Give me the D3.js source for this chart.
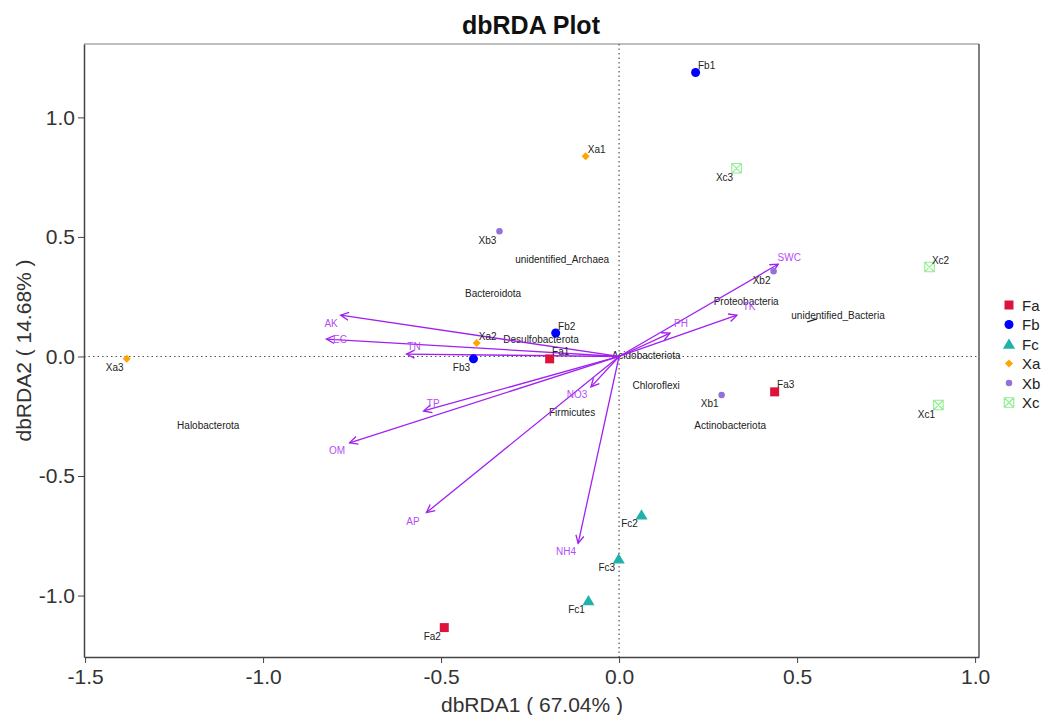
<!DOCTYPE html>
<html lang="en">
<head>
    <meta charset="UTF-8">
    <title>dbRDA Plot</title>
    <script src="https://d3js.org/d3.v7.min.js"></script>
    <style>
        body { margin: 0; background: #fff; }
        text { font-family: "Liberation Sans", Arial, sans-serif; }
        .axis text { font-size: 21px; fill: #333; }
        .axis path, .axis line { stroke: #444; }
    </style>
</head>
<body>
    <svg id="chart"></svg>

    <script>
        // samples
        const groups = ["Fa", "Fb", "Fc", "Xa", "Xb", "Xc"];
        const sampleNames = ["Fa1", "Fa2", "Fa3", "Fb1", "Fb2", "Fb3", "Fc1", "Fc2", "Fc3",
                             "Xa1", "Xa2", "Xa3", "Xb1", "Xb2", "Xb3", "Xc1", "Xc2", "Xc3"];
        const sampleX = [-0.195, -0.491, 0.437, 0.215, -0.178, -0.409, -0.086, 0.063, -0.001,
                         -0.094, -0.400, -1.383, 0.288, 0.434, -0.336, 0.897, 0.872, 0.330];
        const sampleY = [-0.010, -1.134, -0.148, 1.188, 0.098, -0.010, -1.021, -0.662, -0.846,
                         0.837, 0.056, -0.010, -0.161, 0.357, 0.524, -0.203, 0.374, 0.787];
        // which side the repelled label sits on
        const sampleSide = ["ur", "bl", "ur", "ur", "ur", "bl", "bl", "bl", "bl",
                            "ur", "ur", "bl", "bl", "bl", "bl", "bl", "ur", "bl"];

        // environmental factors (arrows)
        const envNames = ["AK", "EC", "TN", "TP", "OM", "AP", "NH4", "NO3", "PH", "TK", "SWC"];
        const envX = [-0.782, -0.822, -0.597, -0.549, -0.757, -0.541, -0.115, -0.079, 0.143, 0.331, 0.447];
        const envY = [0.173, 0.073, 0.010, -0.228, -0.361, -0.653, -0.782, -0.127, 0.098, 0.173, 0.386];
        const envLabelX = [-0.809, -0.784, -0.576, -0.522, -0.792, -0.579, -0.149, -0.118, 0.174, 0.365, 0.478];
        const envLabelY = [0.140, 0.073, 0.040, -0.198, -0.395, -0.689, -0.816, -0.161, 0.136, 0.207, 0.415];

        // species
        const speciesNames = ["unidentified_Archaea", "Bacteroidota", "Desulfobacterota", "Acidobacteriota",
                              "Chloroflexi", "Firmicutes", "Halobacterota", "Proteobacteria",
                              "unidentified_Bacteria", "Actinobacteriota"];
        const speciesX = [-0.160, -0.354, -0.219, 0.076, 0.104, -0.132, -1.154, 0.357, 0.615, 0.312];
        const speciesY = [0.407, 0.263, 0.073, 0.002, -0.123, -0.236, -0.290, 0.228, 0.173, -0.290];
        // repel segment for unidentified_Bacteria
        const linkFrom = [0.528, 0.144];
        const linkTo = [0.556, 0.157];

        const xTicks = [-1.5, -1.0, -0.5, 0.0, 0.5, 1.0];
        const yTicks = [-1.0, -0.5, 0.0, 0.5, 1.0];
        const xLim = [-1.503, 1.011];
        const yLim = [-1.257, 1.307];

        const width = 1042, height = 715;
        const margin = { top: 44, right: 63, bottom: 58, left: 84 };

        const colors = {
            Fa: "#dc143c", Fb: "#0000ff", Fc: "#20b2aa",
            Xa: "#ffa500", Xb: "#9370db", Xc: "#90ee90"
        };
        const envColor = "#a020f0";

        // plain hyphen for negatives, like R
        const fmt = d => d3.format(".1f")(d).replace("\u2212", "-");

        const x = d3.scaleLinear().domain(xLim).range([margin.left, width - margin.right]);
        const y = d3.scaleLinear().domain(yLim).range([height - margin.bottom, margin.top]);

        const svg = d3.select("#chart")
            .attr("width", width)
            .attr("height", height);

        svg.append("defs").append("marker")
            .attr("id", "arrow")
            .attr("markerUnits", "userSpaceOnUse")
            .attr("viewBox", "-10 -6 12 12")
            .attr("markerWidth", 12)
            .attr("markerHeight", 12)
            .attr("refX", 0)
            .attr("refY", 0)
            .attr("orient", "auto")
            .append("path")
            .attr("d", "M-8,-4L0,0L-8,4")
            .attr("fill", "none")
            .attr("stroke", envColor)
            .attr("stroke-width", 1.3);

        // frame
        const x0 = margin.left, x1 = width - margin.right;
        const y0 = margin.top, y1 = height - margin.bottom;
        svg.append("line").attr("x1", x0).attr("x2", x1).attr("y1", y0).attr("y2", y0)
            .attr("stroke", "#aaa").attr("stroke-width", 1.5);
        svg.append("line").attr("x1", x1).attr("x2", x1).attr("y1", y0).attr("y2", y1)
            .attr("stroke", "#555").attr("stroke-width", 1.5);

        // zero lines
        svg.append("line")
            .attr("x1", x(0)).attr("x2", x(0)).attr("y1", y0).attr("y2", y1)
            .attr("stroke", "#555").attr("stroke-width", 1.2).attr("stroke-dasharray", "1.5,3");
        svg.append("line")
            .attr("x1", x0).attr("x2", x1).attr("y1", y(0)).attr("y2", y(0))
            .attr("stroke", "#555").attr("stroke-width", 1.2).attr("stroke-dasharray", "1.5,3");

        // axes
        svg.append("g")
            .attr("class", "axis")
            .attr("transform", `translate(0,${y1})`)
            .call(d3.axisBottom(x).tickValues(xTicks).tickFormat(fmt).tickSize(6).tickSizeOuter(0))
            .call(g => g.select(".domain").attr("stroke-width", 1.5))
            .selectAll("text").attr("dy", "0.85em");

        svg.append("g")
            .attr("class", "axis")
            .attr("transform", `translate(${x0},0)`)
            .call(d3.axisLeft(y).tickValues(yTicks).tickFormat(fmt).tickSize(6).tickSizeOuter(0))
            .call(g => g.select(".domain").attr("stroke-width", 1.5))
            .selectAll("text").attr("x", -9);

        // species labels
        svg.append("line")
            .attr("x1", x(linkFrom[0])).attr("y1", y(linkFrom[1]))
            .attr("x2", x(linkTo[0])).attr("y2", y(linkTo[1]))
            .attr("stroke", "#111").attr("stroke-width", 1.2);

        svg.selectAll(".species")
            .data(speciesNames)
            .join("text")
            .attr("class", "species")
            .attr("x", (d, i) => x(speciesX[i]))
            .attr("y", (d, i) => y(speciesY[i]))
            .attr("text-anchor", "middle")
            .attr("dominant-baseline", "central")
            .style("font-size", "10px")
            .style("fill", "#222")
            .text(d => d);

        // env arrows
        svg.selectAll(".env-arrow")
            .data(envNames)
            .join("line")
            .attr("class", "env-arrow")
            .attr("x1", x(0)).attr("y1", y(0))
            .attr("x2", (d, i) => x(envX[i]))
            .attr("y2", (d, i) => y(envY[i]))
            .attr("stroke", envColor)
            .attr("stroke-width", 1.3)
            .attr("marker-end", "url(#arrow)");

        svg.selectAll(".env-label")
            .data(envNames)
            .join("text")
            .attr("class", "env-label")
            .attr("x", (d, i) => x(envLabelX[i]))
            .attr("y", (d, i) => y(envLabelY[i]))
            .attr("text-anchor", "middle")
            .attr("dominant-baseline", "central")
            .style("font-size", "10px")
            .style("fill", "#b54cf7")
            .text(d => d);

        // point shapes
        function shapePath(group, s) {
            const h = s / 2;
            if (group === "Fa") return `M${-h},${-h}H${h}V${h}H${-h}Z`;
            if (group === "Fb") return d3.symbol(d3.symbolCircle, Math.PI * h * h)();
            if (group === "Fc") return `M0,${-h * 1.0}L${h * 1.1},${h * 0.85}L${-h * 1.1},${h * 0.85}Z`;
            if (group === "Xa") return `M0,${-h}L${h},0L0,${h}L${-h},0Z`;
            if (group === "Xb") return d3.symbol(d3.symbolCircle, Math.PI * h * h)();
            return `M${-h},${-h}H${h}V${h}H${-h}ZM${-h},${-h}L${h},${h}M${h},${-h}L${-h},${h}`;
        }
        const shapeSize = { Fa: 9, Fb: 9, Fc: 11, Xa: 8, Xb: 6.5, Xc: 9.5 };

        function drawShape(sel, group) {
            const open = group === "Xc";
            sel.append("path")
                .attr("d", shapePath(group, shapeSize[group]))
                .attr("fill", open ? "none" : colors[group])
                .attr("stroke", open ? colors[group] : "none")
                .attr("stroke-width", open ? 1.1 : 0);
        }

        const samples = svg.selectAll(".sample")
            .data(sampleNames)
            .join("g")
            .attr("class", "sample")
            .attr("transform", (d, i) => `translate(${x(sampleX[i])},${y(sampleY[i])})`);

        samples.each(function(d) {
            drawShape(d3.select(this), d.slice(0, 2));
        });

        samples.append("text")
            .attr("x", (d, i) => sampleSide[i] === "ur" ? 11 : -12)
            .attr("y", (d, i) => sampleSide[i] === "ur" ? -7 : 9)
            .attr("text-anchor", "middle")
            .attr("dominant-baseline", "central")
            .style("font-size", "10px")
            .style("fill", "#222")
            .text(d => d);

        // legend
        const legend = svg.append("g")
            .attr("transform", "translate(1009,305)");

        const legendItems = legend.selectAll(".legend-item")
            .data(groups)
            .join("g")
            .attr("class", "legend-item")
            .attr("transform", (d, i) => `translate(0,${i * 19.5})`);

        legendItems.each(function(d) {
            drawShape(d3.select(this), d);
        });

        legendItems.append("text")
            .attr("x", 13)
            .attr("y", 0)
            .attr("dominant-baseline", "central")
            .style("font-size", "15px")
            .style("fill", "#222")
            .text(d => d);

        // titles
        svg.append("text")
            .attr("x", 531)
            .attr("y", 34)
            .attr("text-anchor", "middle")
            .style("font-size", "25px")
            .style("font-weight", "bold")
            .style("fill", "#111")
            .text("dbRDA Plot");

        svg.append("text")
            .attr("x", 532)
            .attr("y", 712)
            .attr("text-anchor", "middle")
            .style("font-size", "21px")
            .style("fill", "#333")
            .text("dbRDA1 ( 67.04% )");

        svg.append("text")
            .attr("text-anchor", "middle")
            .attr("transform", `translate(31,${y(0) - 6}) rotate(-90)`)
            .style("font-size", "21px")
            .style("fill", "#333")
            .text("dbRDA2 ( 14.68% )");
    </script>
</body>
</html>
